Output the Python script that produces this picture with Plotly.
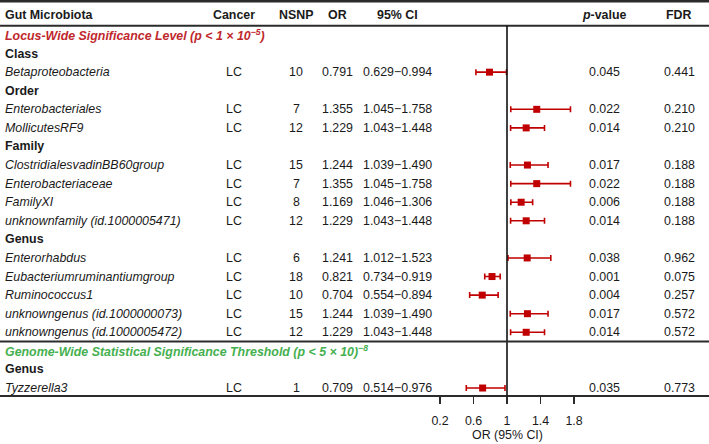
import plotly.graph_objects as go

# ---------------- data ----------------
section_titles = [
    "<b><i>Locus-Wide Significance Level (p &lt; 1 × 10<sup>−5</sup>)</i></b>",
    "<b><i>Genome-Wide Statistical Significance Threshold (p &lt; 5 × 10)<sup>−8</sup></i></b>",
]
section_colors = ["#C0282D", "#45B04F"]

taxa = ["Betaproteobacteria", "Enterobacteriales", "MollicutesRF9",
        "ClostridialesvadinBB60group", "Enterobacteriaceae", "FamilyXI",
        "unknownfamily (id.1000005471)", "Enterorhabdus",
        "Eubacteriumruminantiumgroup", "Ruminococcus1",
        "unknowngenus (id.1000000073)", "unknowngenus (id.1000005472)",
        "Tyzzerella3"]
levels = ["Class", "Order", "Order", "Family", "Family", "Family", "Family",
          "Genus", "Genus", "Genus", "Genus", "Genus", "Genus"]
section = [0, 0, 0, 0, 0, 0, 0, 0, 0, 0, 0, 0, 1]
cancer = ["LC"] * 13
nsnp = [10, 7, 12, 15, 7, 8, 12, 6, 18, 10, 15, 12, 1]
or_val = [0.791, 1.355, 1.229, 1.244, 1.355, 1.169, 1.229, 1.241, 0.821, 0.704, 1.244, 1.229, 0.709]
ci_lo = [0.629, 1.045, 1.043, 1.039, 1.045, 1.046, 1.043, 1.012, 0.734, 0.554, 1.039, 1.043, 0.514]
ci_hi = [0.994, 1.758, 1.448, 1.490, 1.758, 1.306, 1.448, 1.523, 0.919, 0.894, 1.490, 1.448, 0.976]
p_val = ["0.045", "0.022", "0.014", "0.017", "0.022", "0.006", "0.014", "0.038", "0.001", "0.004", "0.017", "0.014", "0.035"]
fdr = ["0.441", "0.210", "0.210", "0.188", "0.188", "0.188", "0.188", "0.962", "0.075", "0.257", "0.572", "0.572", "0.773"]

headers = ["Gut Microbiota", "Cancer", "NSNP", "OR", "95% CI", "<i>p</i>-value", "FDR"]
tick_vals = [0.2, 0.6, 1, 1.4, 1.8]
tick_text = ["0.2", "0.6", "1", "1.4", "1.8"]
x_title = "OR (95% CI)"

# ---------------- layout constants ----------------
W, H = 709, 444
PLOT_H = 396             # plot-area height in px (bottom margin = H - PLOT_H)
ROW1_PX, ROW_STEP = 35, 18.58
REF_PX, PX_PER_UNIT = 507, 83.75   # pixel of OR = 1 and px per OR unit
FONT = "Liberation Sans, Arial, Helvetica, sans-serif"
FS = 12.4
TXT = "#1a1a1a"
LINE = "#2b2b2b"
RED = "#C00000"

def row_of(px):
    return (px - ROW1_PX) / ROW_STEP + 1

x_range = [1 - REF_PX / PX_PER_UNIT, 1 + (W - REF_PX) / PX_PER_UNIT]
y_range = [row_of(PLOT_H), row_of(0)]

# columns: (pixel x, anchor)
cols = [(4, "left"), (234, "center"), (296, "center"), (337, "center"),
        (397, "center"), (604, "center"), (679, "center")]

# ---------------- build rows ----------------
annotations = []

def add_text(px, row, text, anchor, color=TXT, size=FS):
    annotations.append(dict(x=px / W, xref="paper", y=row, yref="y", text=text,
                            xanchor=anchor, yanchor="middle", showarrow=False,
                            font=dict(family=FONT, size=size, color=color)))

# header row
for (px, anc), h in zip(cols, headers):
    add_text(px if anc != "left" else px - 1, -0.07, "<b>%s</b>" % h, anc)

row = 0
cur_sec, cur_lev = None, None
taxon_rows = []
sep_rows = []
for i in range(len(taxa)):
    if section[i] != cur_sec:
        row += 1
        if cur_sec is not None:
            sep_rows.append(row - 0.5)
        cur_sec = section[i]
        cur_lev = None
        add_text(cols[0][0] - 1, row, section_titles[cur_sec], "left", section_colors[cur_sec])
    if levels[i] != cur_lev:
        row += 1
        cur_lev = levels[i]
        add_text(cols[0][0] - 1, row, "<b>%s</b>" % cur_lev, "left")
    row += 1
    taxon_rows.append(row)
    vals = ["<i>%s</i>" % taxa[i], cancer[i], str(nsnp[i]), "%.3f" % or_val[i],
            "%.3f\u2212%.3f" % (ci_lo[i], ci_hi[i]), p_val[i], fdr[i]]
    for (px, anc), v in zip(cols, vals):
        add_text(px - 1 if anc == "left" else px, row, v, anc)

# axis title (paper-referenced so it can sit below the plot area)
annotations.append(dict(x=REF_PX / W, xref="paper", y=(PLOT_H - 435) / PLOT_H, yref="paper",
                        text=x_title, xanchor="center", yanchor="middle", showarrow=False,
                        font=dict(family=FONT, size=FS, color=TXT)))

fig = go.Figure()
fig.add_trace(go.Scatter(
    x=or_val, y=taxon_rows, mode="markers",
    marker=dict(symbol="square", size=7, color=RED),
    error_x=dict(type="data", symmetric=False,
                 array=[h - o for h, o in zip(ci_hi, or_val)],
                 arrayminus=[o - l for o, l in zip(or_val, ci_lo)],
                 color=RED, thickness=1.6, width=3),
    hoverinfo="skip", showlegend=False, cliponaxis=False))

shapes = [
    dict(type="line", xref="paper", yref="y", x0=0, x1=1, y0=row_of(1.2), y1=row_of(1.2),
         line=dict(color=LINE, width=2.6)),
    dict(type="line", xref="paper", yref="y", x0=0, x1=1, y0=0.5, y1=0.5,
         line=dict(color=LINE, width=2)),
    dict(type="line", xref="paper", yref="paper", x0=0, x1=1, y0=0, y1=0,
         line=dict(color=LINE, width=2)),
    dict(type="line", xref="x", yref="y", x0=1, x1=1, y0=0.5, y1=y_range[0],
         line=dict(color="#111111", width=1.6)),
]
for r in sep_rows:
    shapes.append(dict(type="line", xref="paper", yref="y", x0=0, x1=1, y0=r, y1=r,
                       line=dict(color=LINE, width=2)))

fig.update_layout(
    width=W, height=H,
    margin=dict(l=0, r=0, t=0, b=H - PLOT_H, pad=0),
    paper_bgcolor="white", plot_bgcolor="white",
    showlegend=False,
    annotations=annotations,
    shapes=shapes,
    xaxis=dict(range=x_range, tickvals=tick_vals, ticktext=tick_text,
               ticks="outside", ticklen=7, tickwidth=1.6, tickcolor=LINE,
               showgrid=False, zeroline=False, showline=False, fixedrange=True,
               tickfont=dict(family=FONT, size=FS, color=TXT), ticklabelstandoff=6),
    yaxis=dict(range=y_range, visible=False, fixedrange=True),
)

fig.write_html("out.html", config={"displayModeBar": False, "staticPlot": True},
               post_script="document.body.style.margin='0';document.body.style.overflow='hidden';")
